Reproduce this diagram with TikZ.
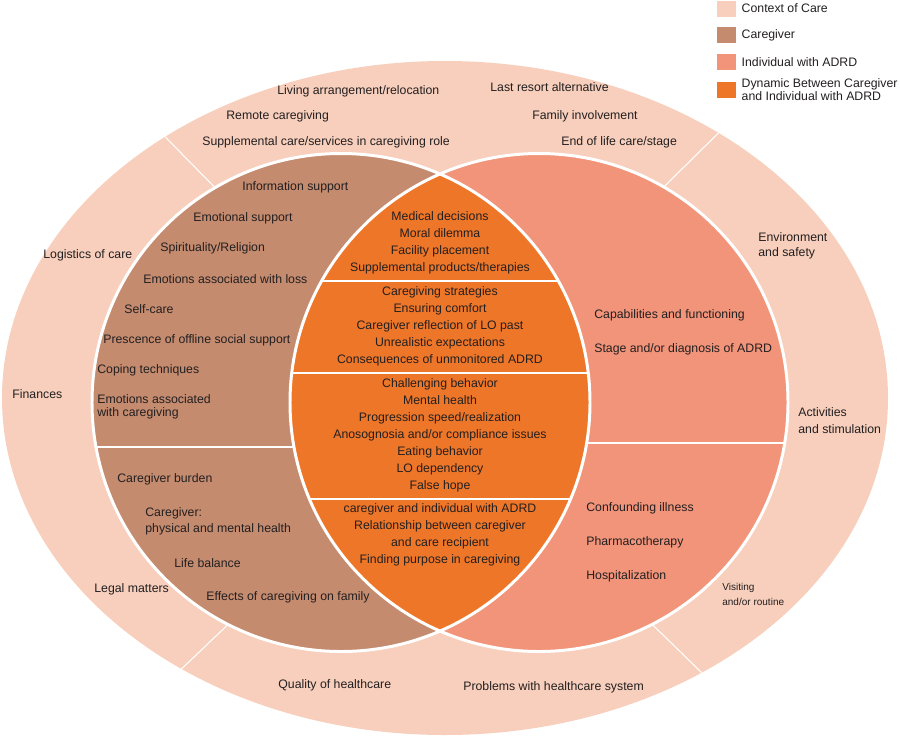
\documentclass[tikz,border=0pt]{standalone}
\usepackage{fontspec}
\setmainfont{Liberation Sans}
\usepackage{xcolor}
\usetikzlibrary{positioning}

\definecolor{ctxcol}{RGB}{247,207,188}
\definecolor{cgcol}{RGB}{196,139,111}
\definecolor{adcol}{RGB}{241,148,121}
\definecolor{dyncol}{RGB}{238,118,40}
\definecolor{txtcol}{RGB}{35,31,32}

\begin{document}
\begin{tikzpicture}[x=0.02cm, y=-0.02cm,
    lbl/.style={anchor=west, inner sep=0pt, align=left, text=txtcol, font=\fontsize{7}{8.5}\selectfont},
    mid/.style={inner sep=0pt, align=center, text=txtcol, font=\fontsize{7}{9.7}\selectfont},
    small/.style={lbl, font=\fontsize{5.7}{8.5}\selectfont},
    keybox/.style={rectangle, minimum width=0.38cm, minimum height=0.32cm, inner sep=0pt},
    keytext/.style={lbl, font=\fontsize{7}{7.2}\selectfont},
    divider/.style={white, line width=0.6pt},
    rim/.style={white, line width=1.7pt},
    cut/.style={white, line width=1.1pt}]
    \useasboundingbox (0,0) rectangle (900,738);

    \coordinate (cc) at (445,398);
    \coordinate (lc) at (341,402.5);
    \coordinate (rc) at (539,402.5);

    % Context of care ring
    \fill[ctxcol] (cc) ellipse [x radius=443, y radius=337];
    \begin{scope}
        \clip (cc) ellipse [x radius=443, y radius=337];
        \draw[divider] (122,93) -- (302,276);
        \draw[divider] (770,82) -- (600,250);
        \draw[divider] (150,699) -- (260,594);
        \draw[divider] (620,593) -- (740,710);
    \end{scope}

    % Caregiver and individual circles
    \fill[cgcol] (lc) circle [radius=249];
    \fill[adcol] (rc) circle [radius=249];
    \begin{scope}
        \clip (lc) circle [radius=249];
        \fill[dyncol] (rc) circle [radius=249];
    \end{scope}

    % section cuts
    \begin{scope}
        \clip (lc) circle [radius=249];
        \draw[cut] (80,447) -- (294,447);
    \end{scope}
    \begin{scope}
        \clip (rc) circle [radius=249];
        \draw[cut] (586,443) -- (800,443);
    \end{scope}
    \begin{scope}
        \clip (lc) circle [radius=249];
        \clip (rc) circle [radius=249];
        \draw[cut] (280,281) -- (600,281);
        \draw[cut] (280,373) -- (600,373);
        \draw[cut] (280,499) -- (600,499);
    \end{scope}
    \draw[rim] (lc) circle [radius=249];
    \draw[rim] (rc) circle [radius=249];

    % Context of care
    \node[lbl] (liv) at (277,91) {Living arrangement/relocation};
    \node[lbl] (rem) at (226,116) {Remote caregiving};
    \node[lbl] (sup) at (202,142) {Supplemental care/services in caregiving role};
    \node[lbl] (las) at (490,87) {Last resort alternative};
    \node[lbl] (fam) at (532,116) {Family involvement};
    \node[lbl] (eol) at (561,142) {End of life care/stage};
    \node[lbl] (log) at (43,255) {Logistics of care};
    \node[lbl] (fin) at (12,394) {Finances};
    \node[lbl] (leg) at (94,589) {Legal matters};
    \node[lbl] (qua) at (278,685) {Quality of healthcare};
    \node[lbl] (pro) at (463,687) {Problems with healthcare system};
    \node[lbl] (env) at (758,245.5) {Environment\\and safety};
    \node[lbl] (act) at (798,420.5) {Activities\\[1.2pt]and stimulation};
    \node[small] (vis) at (722,594.5) {Visiting\\and/or routine};

    % Caregiver
    \node[lbl] (inf) at (242,187) {Information support};
    \node[lbl] (emo) at (193,218) {Emotional support};
    \node[lbl] (spi) at (160,248) {Spirituality/Religion};
    \node[lbl] (los) at (143,279) {Emotions associated with loss};
    \node[lbl] (slf) at (124,309) {Self-care};
    \node[lbl] (off) at (103,340) {Prescence of offline social support};
    \node[lbl] (cop) at (97,370) {Coping techniques};
    \node[lbl] (emc) at (97,407) {Emotions associated\\[-1.3pt]with caregiving};
    \node[lbl] (bur) at (117,479) {Caregiver burden};
    \node[lbl] (phy) at (145,521) {Caregiver:\\[0.6pt]physical and mental health};
    \node[lbl] (bal) at (174,563) {Life balance};
    \node[lbl] (eff) at (206,597) {Effects of caregiving on family};

    % Dynamic between caregiver and individual with ADRD
    \node[mid] (dec) at (440,242.5) {Medical decisions\\Moral dilemma\\Facility placement\\Supplemental products/therapies};
    \node[mid] (str) at (440,326.5) {Caregiving strategies\\Ensuring comfort\\Caregiver reflection of LO past\\Unrealistic expectations\\Consequences of unmonitored ADRD};
    \node[mid] (beh) at (440,435.5) {Challenging behavior\\Mental health\\Progression speed/realization\\Anosognosia and/or compliance issues\\Eating behavior\\LO dependency\\False hope};
    \node[mid] (rel) at (440,534.5) {caregiver and individual with ADRD\\Relationship between caregiver\\and care recipient\\Finding purpose in caregiving};

    % Individual with ADRD
    \node[lbl] (cap) at (594,315) {Capabilities and functioning};
    \node[lbl] (stg) at (594,349) {Stage and/or diagnosis of ADRD};
    \node[lbl] (con) at (586,508) {Confounding illness};
    \node[lbl] (pha) at (586,542) {Pharmacotherapy};
    \node[lbl] (hos) at (586,576) {Hospitalization};

    % Legend
    \node[keybox, fill=ctxcol] (kctx) at (726.5,8.5) {};
    \node[keybox, fill=cgcol] (kcg) at (726.5,35) {};
    \node[keybox, fill=adcol] (kad) at (726.5,62) {};
    \node[keybox, fill=dyncol] (kdyn) at (726.5,89.5) {};
    \node[keytext, right=0.1cm of kctx] (tctx) {Context of Care};
    \node[keytext, right=0.1cm of kcg] (tcg) {Caregiver};
    \node[keytext, right=0.1cm of kad] (tad) {Individual with ADRD};
    \node[keytext, right=0.1cm of kdyn] (tdyn) {Dynamic Between Caregiver\\and Individual with ADRD};
\end{tikzpicture}
\end{document}
